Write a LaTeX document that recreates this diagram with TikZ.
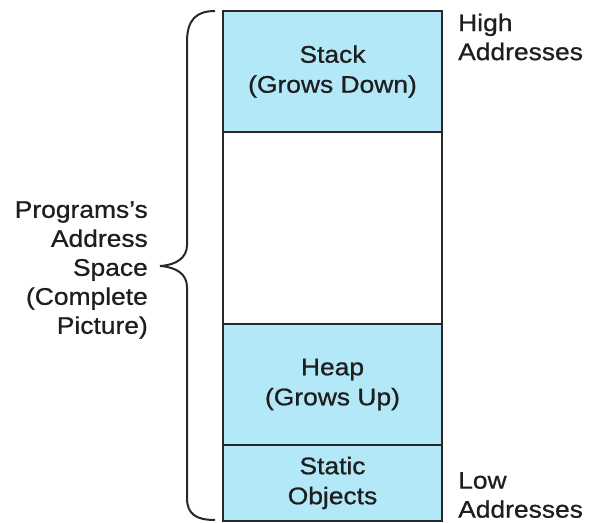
\documentclass[tikz,border=0pt]{standalone}
\usepackage{fontspec}
\setmainfont{Liberation Sans}[FakeStretch=1.1,FakeBold=0.8]
\definecolor{memblue}{RGB}{178,232,247}
\definecolor{edgecol}{RGB}{40,40,40}
\definecolor{txtcol}{RGB}{30,30,30}
\begin{document}
\begin{tikzpicture}[x=1pt,y=-1pt,
  seg/.style={draw=edgecol, line width=2pt, minimum width=219pt, inner sep=0pt, outer sep=0pt, align=center, font=\fontsize{24}{30}\selectfont, text=txtcol},
  filled/.style={seg, fill=memblue},
  lbl/.style={font=\fontsize{24}{29}\selectfont, inner sep=0pt, text=txtcol},
  brace/.style={draw=edgecol, line width=2pt}]
\useasboundingbox (0,0) rectangle (594,522);
\node[seg, fill=white, minimum height=192pt] (free) at (332.5,228) {};
\node[filled, minimum height=121pt] (stack) at (332.5,71.5) {Stack\\(Grows Down)};
\node[filled, minimum height=121pt] (heap) at (332.5,384.5) {Heap\\(Grows Up)};
\node[filled, minimum height=76pt] (static) at (332.5,483) {Static\\Objects};
\node[lbl, align=right, anchor=east] (prog) at (148,270) {Programs’s\\Address\\Space\\(Complete\\Picture)};
\node[lbl, align=left, anchor=west] (high) at (458,37) {High\\Addresses};
\node[lbl, align=left, anchor=west] (low) at (458,495) {Low\\Addresses};
\draw[brace] (215,11) .. controls (196,11) and (187,20) .. (187,42) -- (187,245)
  .. controls (187,258) and (176,265) .. (160,266)
  .. controls (176,267) and (187,274) .. (187,287) -- (187,498)
  .. controls (187,514) and (196,520) .. (215,520);
\end{tikzpicture}
\end{document}
